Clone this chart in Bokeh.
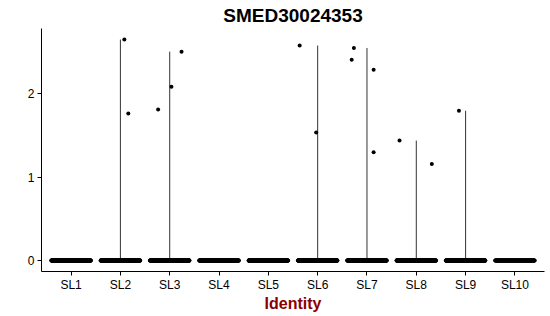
import numpy as np
from bokeh.plotting import figure
from bokeh.models import FixedTicker
from bokeh.embed import file_html
from bokeh.resources import INLINE

# ---- data ----
categories = ["SL1", "SL2", "SL3", "SL4", "SL5", "SL6", "SL7", "SL8", "SL9", "SL10"]
# number of cells with zero expression per identity (dense band at 0)
zero_counts = [300, 300, 300, 300, 300, 300, 300, 300, 300, 150]
# non-zero expressing cells: identity, expression value, horizontal jitter
nz_ident = ["SL2", "SL2", "SL3", "SL3", "SL3", "SL6", "SL6",
            "SL7", "SL7", "SL7", "SL7", "SL8", "SL8", "SL9"]
nz_value = [2.65, 1.763, 1.81, 2.084, 2.505, 2.578, 1.534,
            2.549, 2.409, 2.289, 1.297, 1.438, 1.158, 1.795]
nz_jitter = [0.08, 0.16, -0.235, 0.035, 0.24, -0.365, -0.03,
             -0.265, -0.31, 0.135, 0.135, -0.34, 0.315, -0.135]
y_ticks = [0, 1, 2]

title_text = "SMED30024353"
x_label = "Identity"

FONT = "Liberation Sans"
JITTER = 0.4

pos = {c: i + 1 for i, c in enumerate(categories)}

# violins (degenerate to a thin line from min to max)
vx, vy0, vy1 = [], [], []
for c in categories:
    vals = [v for ic, v in zip(nz_ident, nz_value) if ic == c]
    if vals:
        vx.append(pos[c])
        vy0.append(0.0)
        vy1.append(max(vals))

# points
px, py = [], []
for c, n in zip(categories, zero_counts):
    offs = np.linspace(-JITTER, JITTER, n)
    px.extend(list(pos[c] + offs))
    py.extend([0.0] * n)
for c, v, j in zip(nz_ident, nz_value, nz_jitter):
    px.append(pos[c] + j)
    py.append(v)

ymax = max(nz_value)
pad = 0.05 * ymax

p = figure(width=550, height=316, output_backend="svg", toolbar_location=None,
           x_range=(0.4, len(categories) + 0.6), y_range=(-pad, ymax + pad),
           min_border_left=41, min_border_right=6, min_border_top=28,
           min_border_bottom=45)

p.segment(x0=vx, y0=vy0, x1=vx, y1=vy1, line_color="#333333", line_width=1)
p.scatter(x=px, y=py, size=4, fill_color="black", line_color=None)

p.title.text = title_text
p.title.align = "center"
p.title.text_font = FONT
p.title.text_font_size = "19px"
p.title.text_font_style = "bold"
p.title.text_color = "black"
p.title.standoff = 5

p.xgrid.visible = False
p.ygrid.visible = False
p.outline_line_color = None
p.background_fill_color = "white"
p.border_fill_color = "white"

for ax in (p.xaxis[0], p.yaxis[0]):
    ax.axis_line_color = "black"
    ax.axis_line_width = 1
    ax.major_tick_line_color = "black"
    ax.major_tick_out = 4
    ax.major_tick_in = 0
    ax.minor_tick_line_color = None
    ax.major_label_text_font = FONT
    ax.major_label_text_font_size = "12px"
    ax.major_label_text_color = "black"
    ax.major_label_standoff = 3

p.xaxis.major_label_standoff = 2
p.xaxis.ticker = FixedTicker(ticks=[pos[c] for c in categories])
p.xaxis.major_label_overrides = {pos[c]: c for c in categories}
p.yaxis.ticker = FixedTicker(ticks=y_ticks)

p.xaxis.axis_label = x_label
p.xaxis.axis_label_text_font = FONT
p.xaxis.axis_label_text_font_size = "16px"
p.xaxis.axis_label_text_font_style = "bold"
p.xaxis.axis_label_text_color = "#8B0000"
p.xaxis.axis_label_standoff = 0

open("out.html", "w").write(file_html(p, INLINE))
